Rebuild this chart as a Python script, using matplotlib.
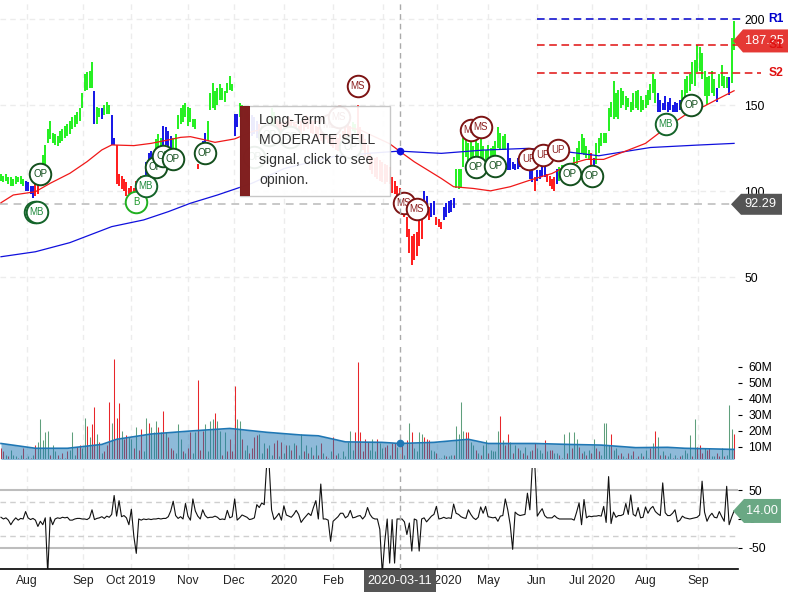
import matplotlib
matplotlib.use("Agg")
import matplotlib.pyplot as plt
from matplotlib.patches import Polygon, Rectangle
import numpy as np

plt.rcParams["font.family"] = ["Liberation Sans", "DejaVu Sans"]
plt.rcParams["axes.unicode_minus"] = False

# --- price bars, one per trading day ---
highs = [
    110, 109, 110, 108, 108, 107, 109, 108, 109, 107, 106, 105, 103, 103, 104, 105, 113, 121, 127, 136,
    141, 134, 133, 132, 135, 136, 138, 139, 141, 143, 144, 146, 148, 157, 168, 169, 170, 175, 158, 149,
    148, 148, 150, 152, 150, 144, 131, 127, 110, 109, 107, 105, 102, 103, 102, 106, 107, 109, 108, 117,
    122, 123, 120, 130, 133, 131, 138, 137, 135, 132, 131, 133, 144, 148, 150, 151, 149, 148, 142, 142,
    116, 126, 129, 134, 141, 157, 163, 158, 160, 162, 160, 158, 163, 167, 162, 145, 145, 151, 150, 149,
    147, 145, 144, 143, 141, 139, 138, 137, 139, 142, 148, 146, 142, 141, 140, 139, 141, 143, 142, 140,
    139, 138, 140, 142, 144, 143, 141, 140, 138, 137, 136, 135, 138, 136, 135, 134, 132, 131, 133, 135,
    137, 139, 138, 140, 139, 150, 137, 133, 130, 127, 122, 120, 119, 120, 118, 117, 116, 115, 114, 108,
    106, 103, 102, 98, 92, 85, 78, 74, 75, 76, 83, 86, 100, 97, 91, 93, 94, 85, 84, 82,
    91, 93, 94, 95, 96, 113, 113, 113, 131, 130, 128, 130, 126, 129, 128, 130, 126, 124, 127, 125,
    126, 129, 137, 134, 132, 133, 128, 119, 117, 116, 119, 120, 117, 119, 118, 113, 112, 108, 112, 112,
    114, 114, 110, 109, 107, 108, 113, 114, 115, 115, 112, 109, 108, 120, 125, 129, 133, 131, 126, 124,
    122, 119, 128, 131, 134, 134, 134, 148, 152, 164, 157, 159, 160, 158, 155, 154, 152, 157, 158, 159,
    155, 153, 156, 159, 162, 168, 165, 157, 153, 151, 155, 152, 154, 150, 152, 151, 153, 159, 165, 167,
    168, 175, 176, 185, 184, 180, 170, 166, 167, 170, 165, 160, 168, 173, 167, 166, 166, 189, 199,
]
lows = [
    106, 105, 106, 104, 103, 103, 104, 105, 104, 103, 100, 100, 98, 96, 97, 98, 105, 111, 116, 128,
    130, 128, 127, 126, 128, 129, 131, 132, 133, 136, 137, 139, 141, 148, 158, 159, 160, 160, 139, 139,
    143, 142, 144, 145, 145, 127, 127, 104, 103, 101, 100, 97, 98, 97, 98, 99, 100, 101, 102, 108,
    112, 114, 113, 118, 120, 122, 126, 127, 126, 125, 124, 122, 136, 139, 140, 143, 138, 140, 137, 136,
    113, 118, 124, 126, 129, 147, 148, 147, 150, 153, 153, 152, 157, 159, 158, 132, 137, 143, 143, 142,
    140, 138, 132, 133, 131, 131, 129, 130, 131, 135, 138, 137, 135, 134, 133, 133, 134, 136, 135, 133,
    132, 131, 132, 135, 137, 136, 134, 133, 131, 130, 129, 128, 130, 128, 126, 125, 124, 123, 125, 127,
    130, 132, 131, 135, 134, 132, 128, 124, 120, 118, 112, 110, 108, 107, 106, 105, 104, 105, 104, 99,
    98, 97, 96, 92, 85, 73, 64, 57, 60, 62, 68, 72, 94, 91, 83, 85, 86, 80, 79, 78,
    83, 85, 87, 88, 90, 102, 101, 102, 114, 120, 117, 118, 116, 120, 118, 119, 117, 117, 117, 116,
    118, 120, 125, 124, 124, 124, 112, 112, 113, 112, 113, 114, 113, 114, 112, 107, 105, 100, 106, 107,
    108, 108, 105, 103, 101, 100, 104, 106, 108, 109, 105, 104, 104, 115, 116, 118, 122, 121, 119, 118,
    112, 113, 116, 122, 126, 128, 128, 135, 143, 142, 143, 142, 148, 150, 147, 149, 146, 147, 148, 147,
    146, 147, 148, 150, 153, 157, 151, 146, 146, 147, 147, 146, 147, 146, 146, 146, 147, 148, 150, 157,
    158, 162, 161, 169, 170, 165, 155, 150, 155, 157, 155, 152, 160, 161, 160, 160, 156, 163, 182,
]
bar_trend = (
    "gggggggggg" "bbbbrrgggg" "gggggggggg" "ggggggggbg" "gbgggbbrrr" "rrrrrrrrrb" "bbbgggbbbb" "gggggggggg"
    "rbbbgggggg" "gggggbbggg" "rrbbbrrrrg" "ggrrrrrrrr" "rrrrrrrrrr" "rrrrrrrrrr" "rrrggrrrrr" "rrrrrrrrrr"
    "rrrrrrrrrr" "rrbbrbbrrr" "bbbbbggggg" "gggggggggg" "ggggggbbbb" "bbbbbbbrbb" "bbrrrrbggg" "rrrggggggg"
    "rbgggggggg" "gggggggggg" "gggggggbbb" "bbbbbbbggg" "gggggggggg" "gbggggbgg"
)

# --- moving averages, vertices ---
red_ma_idx = [0, 5, 14, 20, 28, 35, 41, 45, 54, 61, 68, 73, 77, 83, 87, 95, 102, 115, 125, 135, 146, 158, 162,
              168, 179, 184, 192, 199, 207, 215, 224, 232, 238, 245, 255, 262, 270, 278, 286, 291, 298]
red_ma = [93.2, 97.7, 99.6, 104.5, 110.3, 117.1, 123.9, 126.8, 126.4, 127.7, 129.7, 131.2, 131.6, 129.7, 128.3,
          130.3, 134.5, 139, 141, 139, 135.5, 127.5, 123.2, 117, 107.3, 102.5, 101.5, 100.1, 102.5, 106.3,
          110.2, 116, 118.4, 118.4, 123.8, 127.7, 136.4, 144.1, 149.4, 153.2, 158.3]
blue_ma_idx = [0, 14, 28, 45, 58, 68, 77, 88, 102, 115, 135, 150, 162, 179, 196, 214, 230, 243, 253, 264, 283, 298]
blue_ma = [61.8, 64.7, 70, 79.3, 83.2, 88, 92.9, 97.7, 104.5, 113, 120, 122, 123.2, 121.9, 123.8, 124.8, 122.8,
           120.5, 122.8, 125.3, 126.7, 127.7]

# --- volume in millions ---
volume = [
    9, 7, 5, 4, 8, 5, 4, 3, 5, 9, 3, 4, 3, 5, 11, 13, 27, 14, 19, 20,
    5, 11, 7, 5, 3, 6, 3, 7, 8, 19, 5, 10, 11, 9, 28, 23, 16, 24, 35, 18,
    13, 6, 7, 11, 38, 25, 65, 28, 37, 20, 15, 17, 16, 15, 9, 22, 8, 21, 7, 28,
    25, 22, 19, 26, 22, 19, 32, 19, 16, 9, 8, 6, 24, 15, 7, 6, 9, 19, 6, 19,
    52, 8, 20, 24, 7, 26, 27, 31, 26, 20, 5, 19, 7, 15, 7, 48, 27, 26, 15, 8,
    11, 6, 9, 16, 17, 18, 6, 12, 9, 11, 5, 12, 14, 4, 13, 6, 11, 11, 8, 12,
    11, 5, 18, 7, 11, 6, 10, 5, 11, 5, 12, 6, 4, 3, 7, 16, 5, 6, 3, 7,
    4, 13, 20, 8, 19, 63, 19, 7, 15, 13, 8, 15, 7, 15, 12, 9, 10, 11, 5, 12,
    12, 10, 4, 13, 5, 14, 25, 19, 9, 7, 19, 18, 16, 15, 14, 8, 7, 6, 3, 3,
    5, 4, 4, 5, 5, 23, 18, 38, 20, 19, 19, 13, 11, 8, 6, 5, 11, 14, 6, 8,
    7, 7, 20, 29, 14, 11, 18, 13, 6, 11, 9, 8, 6, 10, 5, 7, 8, 12, 9, 8,
    6, 14, 7, 8, 8, 6, 6, 5, 3, 18, 6, 19, 9, 19, 15, 10, 6, 7, 5, 8,
    6, 15, 9, 7, 5, 25, 25, 11, 18, 8, 9, 5, 6, 4, 3, 6, 5, 7, 3, 4,
    6, 4, 8, 3, 9, 12, 20, 16, 5, 7, 5, 4, 6, 3, 5, 3, 4, 5, 8, 6,
    17, 4, 27, 10, 11, 6, 9, 8, 9, 4, 4, 6, 4, 9, 4, 5, 36, 21, 18,
]
vol_dir = (
    "rrgrgggrgr" "rgrgrggggg" "rggrgrgrgg" "grrggrgrrg" "rgrrrgrrrg" "rrggrgrrgg" "rgggrgrgrr" "rgggrgrrgg"
    "rrrggggrgg" "rgrrrrggrg" "grrrrgggrg" "grrgrgrgrg" "rggrgrgrgr" "rgrrgrrggg" "ggggrrrrrr" "gggrggrrgr"
    "rgrrgrgrgg" "ggrrrggrgg" "grggrggggr" "rggrgrggrg" "gggrgrrgrg" "rgrgrgrrgg" "grgrrggrrg" "rgrggrrgrg"
    "rgrrggggrg" "grrgrrgrgr" "grggrgrgrg" "rggrgrrggg" "grgrrrgrrg" "grrgrgggr"
)
vol_ma_idx = [0, 14, 27, 41, 47, 61, 77, 93, 108, 122, 129, 140, 155, 162, 176, 190, 198, 217, 231, 244, 258, 271, 278, 298]
vol_ma = [12, 9, 9, 11.4, 14.6, 17.9, 19.8, 21.4, 19, 17.3, 16.8, 13, 12.7, 12, 12.7, 14.6, 12, 12, 11.4, 11, 9.4, 9.6, 9, 8.3]

# --- oscillator ---
cci = [
    3, 0, 2, -2, -10, -3, 2, -2, 1, 0, 13, 2, -1, 1, -2, -13, -4, -10, 2, -95,
    3, -10, 0, 2, 1, 3, 2, 3, -2, -2, 0, 1, 1, 0, 0, -1, 2, 16, -1, 1,
    2, 4, 1, 5, 3, 8, 41, 5, 32, 4, 6, 2, -10, 17, -30, -60, 0, -2, 0, -1,
    0, -1, 0, 0, 1, 0, 1, 1, 4, 14, 31, 6, 1, 4, 0, 27, 5, -2, 35, 14,
    5, 0, 16, 6, 2, 3, 3, 5, 3, -1, 0, -1, 15, 2, 4, 35, -2, 2, 7, 5,
    3, -1, 0, 2, 25, 20, 28, 25, 95, 95, 16, -1, 4, 10, -2, 23, 7, 5, 3, 8,
    15, 8, -6, 0, 5, 10, 6, 20, 32, 0, 61, 0, 0, -2, -39, -4, 0, 4, 10, 10,
    2, 5, 15, 2, 3, 5, 6, 0, 5, 20, 8, 2, 0, 0, -18, -95, -40, 0, -77, -1,
    -77, 0, 0, 0, -5, -27, -7, -56, 0, -2, -56, 0, 2, -5, 0, 5, 8, 22, 0, 1,
    3, 1, 2, 1, 26, 10, 8, 4, 2, 1, 16, 8, 2, -1, 3, 21, 10, 22, 4, 3,
    2, 3, -4, 5, 6, 35, 16, -10, -53, 12, 8, 6, 7, 8, 45, 16, 95, 95, 5, 12,
    18, 6, 2, 2, 2, 6, 2, 0, 0, 0, 0, 0, 0, -2, 12, 28, -10, 34, 2, 5,
    4, 5, 5, 6, 5, 22, -6, 74, -8, 12, 3, 6, 6, 8, 27, 8, 42, 8, 5, 20,
    2, 3, 21, 10, 18, 22, 13, 9, 6, 63, 11, 6, 6, 10, 16, -5, -2, 5, 2, 1,
    0, 1, 2, 3, 7, 66, 12, -4, 5, 10, 3, 2, 13, 4, -4, 57, -10, 3, 14,
]

# --- signal bubbles ---
sig_idx = [15.9, 13.8, 14.6, 54.9, 58.9, 63, 65.9, 69.9, 82.9, 103, 109, 117.5, 133.7, 137.4, 141.9, 145, 163.8,
           169, 191, 195, 193, 201, 214.6, 220.3, 226.4, 231.3, 240.2, 270.3, 280.5]
sig_price = [109.9, 87.8, 87.8, 93.6, 102.9, 114, 120.3, 118.6, 122.1, 119.8, 132.6, 131.4, 138.4, 143, 125.6, 161,
             93, 89.5, 135.5, 137, 114, 114.5, 118.6, 121, 124, 109.9, 108.7, 139, 150]
sig_label = ["OP", "MB", "MB", "B", "MB", "OP", "OP", "OP", "OP", "OP", "OP", "OP", "MS", "MS", "OP", "MS", "MS",
             "MS", "MS", "MS", "OP", "OP", "UP", "UP", "UP", "OP", "OP", "MB", "OP"]

# --- support / resistance and last values ---
level_names = ["R1", "S1", "S2"]
level_values = [200, 185, 168.6]
level_ends = [301.6, 301.6, 309]
level_colors = ["#0000cc", "#e01010", "#e01010"]
level_start = 218
last_close = 187.25
ref_close = 92.29
last_cci = 14.00
cross_idx = 162
cross_date = "2020-03-11"

month_idx = [10.6, 33.3, 52.8, 76, 94.7, 115, 135, 155.3, 177.2, 198, 217.9, 240.2, 262.2, 283.3]
month_labels = ["Aug", "Sep", "Oct 2019", "Nov", "Dec", "2020", "Feb", "Mar", "Apr 2020", "May", "Jun", "Jul 2020", "Aug", "Sep"]

GRID = "#ececec"
BAR_COLORS = {"g": "#22f01e", "b": "#1414e6", "r": "#ff1a1a"}
VOL_COLORS = {"g": "#5f9f7c", "r": "#e8262a"}
SIG_STYLE = {
    "OP": ("#14501e", "#14501e"),
    "MB": ("#14642a", "#1f8a3c"),
    "B": ("#20b020", "#1f9a2c"),
    "MS": ("#7d1414", "#8b1f1f"),
    "UP": ("#7d1414", "#8b1f1f"),
}


def px_axes(left, top, right, bottom):
    # axes placed by pixel box, y measured from the top of the picture
    return fig.add_axes([left / 800, 1 - bottom / 600, (right - left) / 800, (bottom - top) / 600])


fig = plt.figure(figsize=(8, 6), dpi=100)
ax_price = px_axes(0, 0, 738, 340)
ax_vol = px_axes(0, 344, 738, 459)
ax_cci = px_axes(0, 468, 738, 569)

xs = np.arange(len(highs))
for ax in (ax_price, ax_vol, ax_cci):
    ax.set_xlim(-0.4, 299.6)
    ax.patch.set_alpha(0)
    ax.set_xticks(month_idx)
    ax.set_xticklabels([])
    ax.tick_params(axis="x", length=0)
    ax.grid(axis="x", color=GRID, ls=(0, (4, 3)), lw=1)
    ax.set_axisbelow(True)
    for s in ax.spines.values():
        s.set_visible(False)
    ax.axvline(cross_idx, color="#aaaaaa", ls=(0, (4, 3)), lw=1, zorder=6)
    ax.yaxis.tick_right()

# price panel
ax_price.set_ylim(13.4, 211.05)
ax_price.set_yticks([50, 100, 150, 200])
ax_price.tick_params(axis="y", length=0, pad=4.5, labelsize=8.7)
ax_price.grid(axis="y", color=GRID, ls=(0, (4, 3)), lw=1)
ax_price.hlines(ref_close, -0.4, 298, color="#c8c8c8", ls=(0, (4, 3)), lw=1.4, zorder=1)
bar_cols = [BAR_COLORS[c] for c in bar_trend]
ax_price.vlines(xs, lows, highs, colors=bar_cols, lw=1.4, zorder=2)
ax_price.plot(blue_ma_idx, blue_ma, color="#1010dd", lw=0.9, zorder=3)
ax_price.plot(red_ma_idx, red_ma, color="#f01818", lw=0.9, zorder=3)
ax_price.plot([cross_idx], [123.2], "o", color="#1010dd", ms=4.5, zorder=7)

for val, end, col in zip(level_values, level_ends, level_colors):
    ax_price.plot([level_start, end], [val, val], color=col, ls=(0, (5, 3)), lw=1.1, zorder=4, clip_on=False)

for i, p, lab in zip(sig_idx, sig_price, sig_label):
    edge, txt = SIG_STYLE[lab]
    ax_price.plot([i], [p], "o", ms=15.5, mfc="white", mec=edge, mew=1.4, zorder=5)
    ax_price.text(i, p, lab, ha="center", va="center", fontsize=7, color=txt, zorder=5)

# volume panel
ax_vol.set_ylim(2.3, 74.2)
ax_vol.set_yticks([10, 20, 30, 40, 50, 60])
ax_vol.set_yticklabels(["10M", "20M", "30M", "40M", "50M", "60M"])
ax_vol.tick_params(axis="y", length=3, pad=4.5, labelsize=8.7, width=0.8)
ax_vol.vlines(xs, 0, volume, colors=[VOL_COLORS[c] for c in vol_dir], lw=0.75, zorder=2)
ax_vol.fill_between(vol_ma_idx, 0, vol_ma, color="#1f77b4", alpha=0.5, lw=0, zorder=3)
ax_vol.plot(vol_ma_idx, vol_ma, color="#1f77b4", lw=1.2, zorder=4)
ax_vol.plot([cross_idx], [12], "o", color="#1f77b4", ms=4.5, zorder=7)

# oscillator panel
ax_cci.set_ylim(-87.3, 89)
ax_cci.set_yticks([-50, 0, 50])
ax_cci.tick_params(axis="y", length=3, pad=4.5, labelsize=8.7, width=0.8)
for v in (50, -50):
    ax_cci.axhline(v, color="#bdbdbd", lw=1.5, zorder=1)
for v in (30, -30):
    ax_cci.axhline(v, color="#cfcfcf", ls=(0, (4, 3)), lw=1, zorder=1)
ax_cci.plot(xs, cci, color="#111111", lw=0.8, zorder=3)
ax_cci.spines["bottom"].set_visible(True)
ax_cci.spines["bottom"].set_color("black")
ax_cci.spines["bottom"].set_linewidth(1.2)
ax_cci.set_xticklabels(month_labels, fontsize=8.7)
ax_cci.tick_params(axis="x", pad=4.5, labelcolor="#222222")

# overlay in picture pixels for the tags and the opinion box
ov = fig.add_axes([0, 0, 1, 1], zorder=10)
ov.set_xlim(0, 800)
ov.set_ylim(600, 0)
ov.axis("off")


def py(ax, val):
    return 600 - ax.transData.transform((0, val))[1]


def value_tag(ax, val, text, color, tip, body, right, half):
    y = py(ax, val)
    ov.add_patch(Polygon([(tip, y), (body, y - half), (right, y - half), (right, y + half), (body, y + half)],
                         closed=True, fc=color, ec="none", zorder=2))
    ov.text((body + right) / 2 - 1, y, text, color="white", ha="center", va="center", fontsize=9.2, zorder=3)


value_tag(ax_price, last_close, f"{last_close:.2f}", "#e53935", 733, 743, 788, 11.5)
value_tag(ax_price, ref_close, f"{ref_close:.2f}", "#555555", 731, 741, 782, 10.5)
value_tag(ax_cci, last_cci, f"{last_cci:.2f}", "#6aa884", 733, 744, 781, 12)

# level names sit over the tags
for name, val, col in zip(level_names, level_values, level_colors):
    ov.text(776, py(ax_price, val), name, color=col, ha="center", va="center", fontsize=8.7,
            fontweight="bold", zorder=4)

ov.add_patch(Rectangle((364, 570), 72, 22, fc="#555555", ec="none", zorder=2))
ov.text(400, 580.5, cross_date, color="white", ha="center", va="center", fontsize=9.2, zorder=3)

ov.add_patch(Rectangle((240, 106), 150, 90, fc="white", ec="#c4c4c4", lw=1, alpha=0.92, zorder=2))
ov.add_patch(Rectangle((240, 106), 10, 90, fc="#7a1414", ec="none", alpha=0.95, zorder=3))
for y, line in zip([120, 140, 160, 180], ["Long-Term", "MODERATE SELL", "signal, click to see", "opinion."]):
    ov.text(259, y, line, color="#333333", ha="left", va="center", fontsize=10.1, zorder=4)

fig.savefig("out.png", dpi=100)
